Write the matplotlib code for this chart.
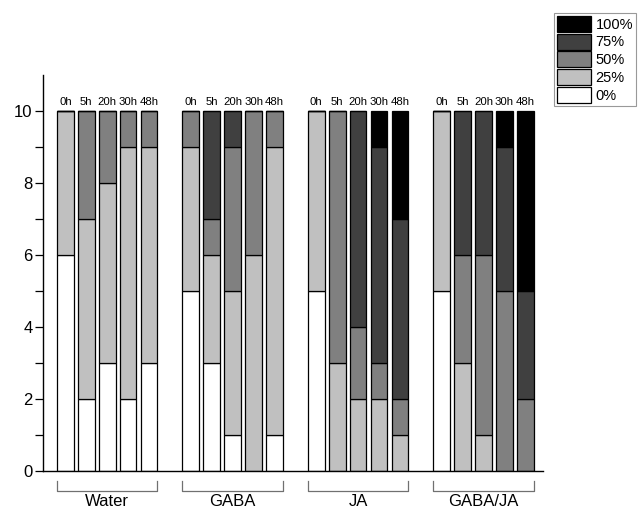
import matplotlib.pyplot as plt
import matplotlib.transforms as mtransforms
import numpy as np

plt.rcParams['font.family'] = ['Liberation Sans', 'DejaVu Sans']

groups = ['Water', 'GABA', 'JA', 'GABA/JA']
times = ['0h', '5h', '20h', '30h', '48h']
levels = ['0%', '25%', '50%', '75%', '100%']
colors = ['#ffffff', '#c0c0c0', '#808080', '#404040', '#000000']

# counts per level, one row per group, one column per time point
pct0 = [[6, 2, 3, 2, 3],
        [5, 3, 1, 0, 1],
        [5, 0, 0, 0, 0],
        [5, 0, 0, 0, 0]]
pct25 = [[4, 5, 5, 7, 6],
         [4, 3, 4, 6, 8],
         [5, 3, 2, 2, 1],
         [5, 3, 1, 0, 0]]
pct50 = [[0, 3, 2, 1, 1],
         [1, 1, 4, 4, 1],
         [0, 7, 2, 1, 1],
         [0, 3, 5, 5, 2]]
pct75 = [[0, 0, 0, 0, 0],
         [0, 3, 1, 0, 0],
         [0, 0, 6, 6, 5],
         [0, 4, 4, 4, 3]]
pct100 = [[0, 0, 0, 0, 0],
          [0, 0, 0, 0, 0],
          [0, 0, 0, 1, 3],
          [0, 0, 0, 1, 5]]

series = [pct0, pct25, pct50, pct75, pct100]

fig = plt.figure(figsize=(6.38, 5.12), dpi=100)
ax = fig.add_axes([0.0674, 0.080, 0.784, 0.7735])

gap = 6
width = 0.8
for g in range(len(groups)):
    x = g * gap + np.arange(len(times))
    bottom = np.zeros(len(times))
    for k, s in enumerate(series):
        vals = np.array(s[g], dtype=float)
        ax.bar(x, vals, width, bottom=bottom, color=colors[k], edgecolor='black',
               linewidth=0.9, label=levels[k] if g == 0 else None, zorder=2)
        bottom += vals
    for xi, t, b in zip(x, times, bottom):
        ax.text(xi, b + 0.1, t, ha='center', va='bottom', fontsize=8.2)

    # bracket with group name under the axis
    trans = mtransforms.blended_transform_factory(ax.transData, ax.transAxes)
    x0, x1 = x[0] - width / 2, x[-1] + width / 2
    ax.plot([x0, x0, x1, x1], [-0.025, -0.0505, -0.0505, -0.025], color='#707070',
            linewidth=0.9, transform=trans, clip_on=False)
    ax.text((x0 + x1) / 2, -0.057, groups[g], ha='center', va='top', fontsize=12,
            transform=trans)

ax.set_xlim(-1.07, 22.85)
ax.set_ylim(0, 11)
ax.set_yticks([0, 2, 4, 6, 8, 10])
ax.set_yticks(np.arange(1, 11, 2), minor=True)
ax.set_xticks([])
ax.tick_params(axis='y', which='both', direction='out', length=5.5, width=0.9,
               labelsize=12, pad=2)
ax.spines['top'].set_visible(False)
ax.spines['right'].set_visible(False)
for sp in ['left', 'bottom']:
    ax.spines[sp].set_linewidth(1.0)

handles, labels = ax.get_legend_handles_labels()
leg = fig.legend(handles[::-1], labels[::-1], loc='upper right',
                 bbox_to_anchor=(0.997, 0.975), fontsize=10.5, frameon=True,
                 fancybox=False, edgecolor='#808080', handlelength=2.35,
                 handleheight=1.32, handletextpad=0.3, labelspacing=0.12,
                 borderpad=0.2, borderaxespad=0)
leg.get_frame().set_linewidth(0.8)

fig.savefig('out.png', dpi=100)
